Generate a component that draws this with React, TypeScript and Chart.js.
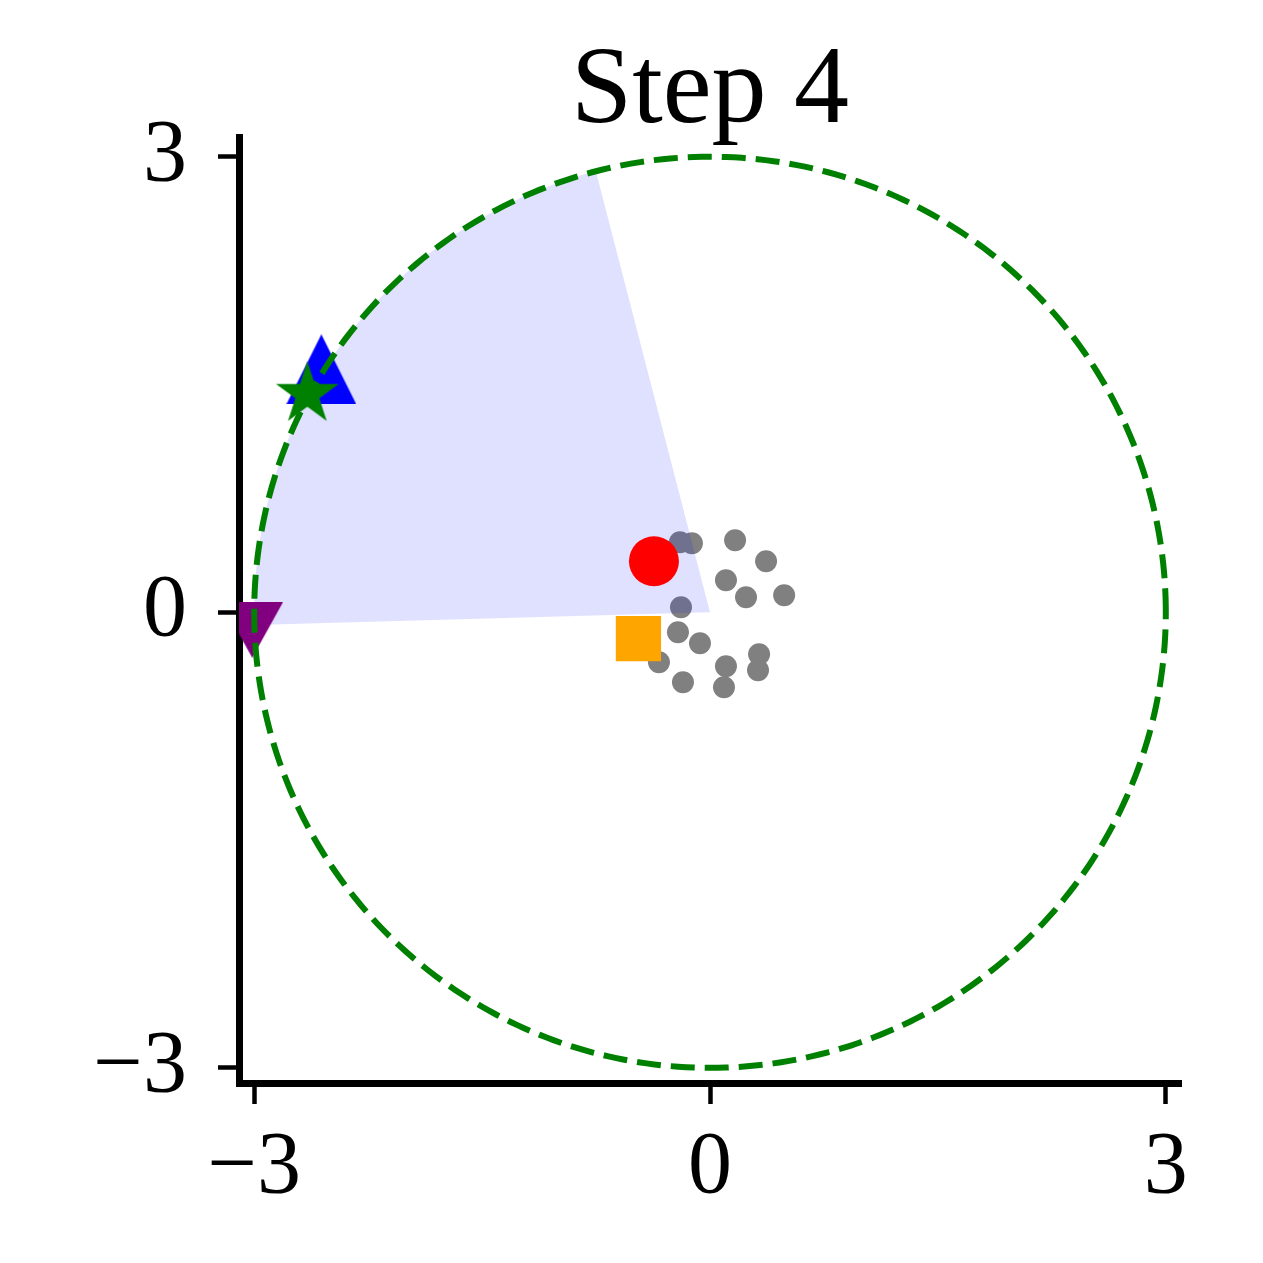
import React, { useEffect, useRef } from "react";
import { Chart, registerables } from "chart.js";

Chart.register(...registerables);

const TITLE = "Step 4";
const TICK_VALUES = [-3, 0, 3];
const X_MIN = -3.1;
const X_MAX = 3.1;
const Y_MIN = -3.1;
const Y_MAX = 3.13;
const CIRCLE_RADIUS = 3;
const WEDGE_ANGLES_DEG = [104.5, 181.6];

const GRAY_X = [-0.198, -0.119, 0.165, 0.369, 0.105, 0.237, 0.488, -0.191, -0.211, -0.066, -0.336, -0.178, 0.105, 0.092, 0.323, 0.316];
const GRAY_Y = [0.461, 0.455, 0.474, 0.336, 0.211, 0.099, 0.112, 0.033, -0.132, -0.204, -0.329, -0.461, -0.356, -0.494, -0.277, -0.382];

const RED_POINT = [-0.369, 0.336];
const ORANGE_POINT = [-0.471, -0.174];
const BLUE_POINT = [-2.558, 1.6];
const STAR_POINT = [-2.65, 1.436];
const PURPLE_POINT = [-3.013, -0.115];

function makeTriangle(w: number, h: number, color: string, down: boolean) {
  const c = document.createElement("canvas");
  c.width = w;
  c.height = h;
  const ctx = c.getContext("2d")!;
  ctx.fillStyle = color;
  ctx.beginPath();
  if (down) {
    ctx.moveTo(0, 0);
    ctx.lineTo(w, 0);
    ctx.lineTo(w / 2, h);
  } else {
    ctx.moveTo(w / 2, 0);
    ctx.lineTo(w, h);
    ctx.lineTo(0, h);
  }
  ctx.closePath();
  ctx.fill();
  return c;
}

function makeStar(R: number, color: string) {
  const size = Math.ceil(2 * R + 2);
  const c = document.createElement("canvas");
  c.width = size;
  c.height = size;
  const ctx = c.getContext("2d")!;
  const cx = size / 2;
  const cy = size / 2;
  const r = R * 0.381966;
  ctx.fillStyle = color;
  ctx.beginPath();
  for (let i = 0; i < 10; i++) {
    const a = -Math.PI / 2 + (i * Math.PI) / 5;
    const rr = i % 2 === 0 ? R : r;
    const x = cx + rr * Math.cos(a);
    const y = cy + rr * Math.sin(a);
    if (i === 0) ctx.moveTo(x, y);
    else ctx.lineTo(x, y);
  }
  ctx.closePath();
  ctx.fill();
  return c;
}

export default function App() {
  const ref = useRef<HTMLCanvasElement>(null);

  useEffect(() => {
    if (!ref.current) return;

    const circlePts = [];
    for (let i = 0; i <= 360; i++) {
      const a = (i * Math.PI) / 180;
      circlePts.push({ x: CIRCLE_RADIUS * Math.cos(a), y: CIRCLE_RADIUS * Math.sin(a) });
    }

    const wedgePts = [{ x: 0, y: 0 }];
    const [a0, a1] = WEDGE_ANGLES_DEG;
    for (let k = 0; k <= 80; k++) {
      const a = ((a0 + ((a1 - a0) * k) / 80) * Math.PI) / 180;
      wedgePts.push({ x: CIRCLE_RADIUS * Math.cos(a), y: CIRCLE_RADIUS * Math.sin(a) });
    }
    wedgePts.push({ x: 0, y: 0 });

    const grayPts = GRAY_X.map((x, i) => ({ x, y: GRAY_Y[i] }));

    const triUp = makeTriangle(70, 70, "#0000ff", false);
    const triDown = makeTriangle(62, 56, "#800080", true);
    const star = makeStar(33, "#008000");

    const titlePlugin = {
      id: "stepTitle",
      afterDraw(chart: any) {
        const { ctx, chartArea } = chart;
        ctx.save();
        ctx.font = '110px "Liberation Serif"';
        ctx.fillStyle = "#000";
        ctx.textAlign = "center";
        ctx.textBaseline = "alphabetic";
        ctx.fillText(TITLE, (chartArea.left + chartArea.right) / 2, 122);
        ctx.restore();
      },
    };

    // fills the wedge polygon using the pixel positions the library computed for the wedge dataset
    const wedgePlugin = {
      id: "wedgeFill",
      afterDatasetDraw(chart: any, args: any) {
        const ds = chart.data.datasets[args.index];
        if (ds.label !== "wedge") return;
        const { ctx, chartArea } = chart;
        const pts = args.meta.data;
        ctx.save();
        ctx.beginPath();
        ctx.rect(chartArea.left, chartArea.top, chartArea.right - chartArea.left, chartArea.bottom - chartArea.top);
        ctx.clip();
        ctx.beginPath();
        pts.forEach((p: any, i: number) => {
          if (i === 0) ctx.moveTo(p.x, p.y);
          else ctx.lineTo(p.x, p.y);
        });
        ctx.closePath();
        ctx.fillStyle = ds.backgroundColor;
        ctx.fill();
        ctx.restore();
      },
    };

    const fmt = (v: number) => (v < 0 ? "\u2212" + Math.abs(v) : String(v));

    const axisCommon = {
      type: "linear",
      afterBuildTicks: (s: any) => {
        s.ticks = TICK_VALUES.map((v) => ({ value: v }));
      },
      grid: {
        display: true,
        drawOnChartArea: false,
        drawTicks: true,
        tickLength: 21,
        tickWidth: 4.5,
        tickColor: "#000",
        color: "#000",
      },
      border: { display: true, color: "#000", width: 7 },
    };

    const chart = new Chart(ref.current, {
      type: "scatter",
      data: {
        datasets: [
          {
            label: "circle",
            data: circlePts,
            showLine: true,
            borderColor: "#008000",
            borderWidth: 6,
            borderDash: [24, 10],
            pointRadius: 0,
            fill: false,
            order: 0,
          },
          {
            label: "star",
            data: [{ x: STAR_POINT[0], y: STAR_POINT[1] }],
            pointStyle: star,
            pointRadius: 30,
            borderWidth: 0,
            order: 1,
          },
          {
            label: "blue",
            data: [{ x: BLUE_POINT[0], y: BLUE_POINT[1] }],
            pointStyle: triUp,
            pointRadius: 30,
            borderWidth: 0,
            order: 2,
          },
          {
            label: "purple",
            data: [{ x: PURPLE_POINT[0], y: PURPLE_POINT[1] }],
            pointStyle: triDown,
            pointRadius: 30,
            borderWidth: 0,
            order: 3,
          },
          {
            label: "red",
            data: [{ x: RED_POINT[0], y: RED_POINT[1] }],
            pointStyle: "circle",
            pointRadius: 25,
            backgroundColor: "#ff0000",
            pointBorderWidth: 0,
            borderWidth: 0,
            order: 4,
          },
          {
            label: "orange",
            data: [{ x: ORANGE_POINT[0], y: ORANGE_POINT[1] }],
            pointStyle: "rect",
            pointRadius: 32,
            backgroundColor: "#ffa500",
            pointBorderWidth: 0,
            borderWidth: 0,
            order: 5,
          },
          {
            label: "wedge",
            data: wedgePts,
            showLine: false,
            borderWidth: 0,
            backgroundColor: "rgba(0,0,255,0.12)",
            pointRadius: 0,
            fill: false,
            order: 6,
          },
          {
            label: "gray",
            data: grayPts,
            pointStyle: "circle",
            pointRadius: 11,
            backgroundColor: "#808080",
            pointBorderWidth: 0,
            borderWidth: 0,
            order: 7,
          },
        ],
      },
      options: {
        responsive: false,
        animation: false,
        devicePixelRatio: 1,
        events: [],
        layout: { padding: { top: 137, right: 82, left: 0, bottom: 0 } },
        plugins: {
          legend: { display: false },
          tooltip: { enabled: false },
          title: { display: false },
        },
        scales: {
          x: {
            ...axisCommon,
            min: X_MIN,
            max: X_MAX,
            afterFit: (s: any) => {
              s.height = 180;
            },
            ticks: {
              autoSkip: false,
              maxRotation: 0,
              padding: 12,
              color: "#000",
              font: { family: '"Liberation Serif"', size: 88 },
              callback: (v: any) => fmt(Number(v)),
            },
          },
          y: {
            ...axisCommon,
            min: Y_MIN,
            max: Y_MAX,
            afterFit: (s: any) => {
              s.width = 239;
            },
            ticks: {
              autoSkip: false,
              padding: 31,
              color: "#000",
              font: { family: '"Liberation Serif"', size: 88 },
              callback: (v: any) => fmt(Number(v)),
            },
          },
        },
      },
      plugins: [titlePlugin, wedgePlugin],
    } as any);

    return () => chart.destroy();
  }, []);

  return (
    <div style={{ position: "absolute", left: 0, top: 0, width: 1263, height: 1263, background: "#fff" }}>
      <canvas ref={ref} width={1263} height={1263} style={{ display: "block" }} />
    </div>
  );
}
